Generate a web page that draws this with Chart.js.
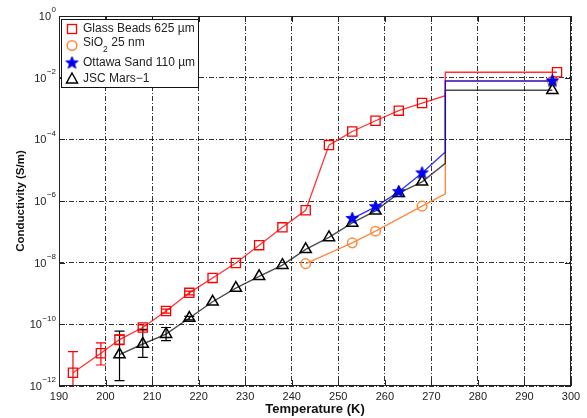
<!DOCTYPE html>
<html>
<head>
<meta charset="utf-8">
<script src="https://cdn.jsdelivr.net/npm/chart.js@4.4.1/dist/chart.umd.min.js"></script>
<style>
  html, body { margin: 0; padding: 0; background: #fff; }
  #wrap { width: 587px; height: 418px; }
</style>
</head>
<body>
<div id="wrap"><canvas id="chart" width="587" height="418"></canvas></div>
<script>
/* ========================================
   DATA
======================================== */
const glassTemp = [193, 199, 203, 208, 213, 218, 223, 228, 233, 238, 243, 248, 253, 258, 263, 268, 273, 273, 297];
const glassCond = [2.7e-12, 1.15e-11, 3.2e-11, 7.9e-11, 2.7e-10, 1.05e-9, 3.2e-9, 9.8e-9, 3.7e-8, 1.4e-7, 5.0e-7,
                   6.5e-5, 1.8e-4, 4.0e-4, 8.5e-4, 1.5e-3, 2.6e-3, 1.5e-2, 1.5e-2];

const sio2Temp = [243, 253, 258, 268, 273, 273, 296];
const sio2Cond = [9.3e-9, 4.4e-8, 1.05e-7, 6.8e-7, 1.7e-6, 7.8e-3, 7.8e-3];

const ottawaTemp = [253, 258, 263, 268, 273, 273, 296];
const ottawaCond = [2.7e-7, 6.5e-7, 2.0e-6, 8.1e-6, 3.9e-5, 7.8e-3, 7.8e-3];

const jscTemp = [203, 208, 213, 218, 223, 228, 233, 238, 243, 248, 253, 258, 263, 268, 273, 273, 296];
const jscCond = [1.05e-11, 2.3e-11, 4.8e-11, 1.6e-10, 5.4e-10, 1.5e-9, 3.6e-9, 8.3e-9, 2.7e-8, 6.6e-8,
                 1.95e-7, 4.8e-7, 1.8e-6, 4.2e-6, 1.66e-5, 3.9e-3, 3.9e-3];

// error bars
const glassErrTemp = [193, 199, 203, 208, 213, 218];
const glassErrHi   = [1.3e-11, 2.5e-11, 4.5e-11, 9.5e-11, 3.1e-10, 1.2e-9];
const glassErrLo   = [1e-13, 4.8e-12, 2.2e-11, 6.5e-11, 2.3e-10, 9e-10];

const jscErrTemp = [203, 208, 213, 218];
const jscErrHi   = [6.0e-11, 6.9e-11, 7.9e-11, 1.8e-10];
const jscErrLo   = [1.5e-12, 8.5e-12, 2.95e-11, 1.4e-10];

const seriesNames = ["Glass Beads 625 \u00b5m", "SiO", "Ottawa Sand 110 \u00b5m", "JSC Mars\u22121"];
const xTicks = [190, 200, 210, 220, 230, 240, 250, 260, 270, 280, 290, 300];
const yExponents = [0, -2, -4, -6, -8, -10, -12];

const JUMP_T = 273; // melt step, drawn without markers

/* ========================================
   STYLE
======================================== */
const RED = "#ff0000";
const ORANGE = "#ff8a3d";
const BLUE = "#0000ff";
const BLACK = "#000000";
const FONT = "'Liberation Sans', Arial, sans-serif";

function pts(t, v) {
  return t.map((x, i) => ({ x, y: v[i] }));
}

function makeStar(r, fill, stroke) {
  const c = document.createElement("canvas");
  const s = Math.ceil(r * 2 + 2);
  c.width = s; c.height = s;
  const g = c.getContext("2d");
  g.beginPath();
  for (let i = 0; i < 10; i++) {
    const a = -Math.PI / 2 + i * Math.PI / 5;
    const rr = i % 2 ? r * 0.42 : r;
    g.lineTo(s / 2 + rr * Math.cos(a), s / 2 + rr * Math.sin(a));
  }
  g.closePath();
  g.fillStyle = fill; g.fill();
  g.strokeStyle = stroke; g.lineWidth = 1; g.stroke();
  return c;
}
const starImg = makeStar(6.5, BLUE, "#0000cc");

const markerRadius = r => c => (c.raw && c.raw.x === JUMP_T ? 0 : r);

/* ========================================
   PLUGIN: frame, ticks, labels, legend, error bars
======================================== */
function drawErr(ctx, x, y, temps, hi, lo, color) {
  ctx.strokeStyle = color;
  ctx.lineWidth = 1.2;
  temps.forEach((t, i) => {
    const px = x.getPixelForValue(t);
    const pHi = y.getPixelForValue(hi[i]);
    const pLo = y.getPixelForValue(lo[i]);
    ctx.beginPath();
    ctx.moveTo(px, pHi); ctx.lineTo(px, pLo);
    ctx.moveTo(px - 5, pHi); ctx.lineTo(px + 5, pHi);
    ctx.moveTo(px - 5, pLo); ctx.lineTo(px + 5, pLo);
    ctx.stroke();
  });
}

function legendMarker(ctx, kind, cx, cy) {
  ctx.save();
  ctx.lineWidth = 1.3;
  if (kind === 0) {
    ctx.strokeStyle = RED;
    ctx.strokeRect(cx - 4.5, cy - 4.5, 9, 9);
  } else if (kind === 1) {
    ctx.strokeStyle = ORANGE;
    ctx.lineWidth = 1.6;
    ctx.beginPath(); ctx.arc(cx, cy, 4.8, 0, Math.PI * 2); ctx.stroke();
  } else if (kind === 2) {
    ctx.drawImage(starImg, cx - starImg.width / 2, cy - starImg.height / 2);
  } else {
    ctx.strokeStyle = BLACK;
    ctx.lineWidth = 1.5;
    ctx.beginPath();
    ctx.moveTo(cx, cy - 6);
    ctx.lineTo(cx + 5.5, cy + 4);
    ctx.lineTo(cx - 5.5, cy + 4);
    ctx.closePath(); ctx.stroke();
  }
  ctx.restore();
}

const decorPlugin = {
  id: "decor",
  beforeDatasetsDraw(chart) {
    const { ctx, chartArea: a, scales: { x, y } } = chart;
    ctx.save();
    ctx.beginPath();
    ctx.rect(a.left, a.top, a.right - a.left, a.bottom - a.top);
    ctx.clip();
    drawErr(ctx, x, y, glassErrTemp, glassErrHi, glassErrLo, RED);
    drawErr(ctx, x, y, jscErrTemp, jscErrHi, jscErrLo, BLACK);
    ctx.restore();
  },
  afterDraw(chart) {
    const { ctx, chartArea: a, scales: { x, y } } = chart;
    ctx.save();

    // box
    ctx.strokeStyle = "#222";
    ctx.lineWidth = 1;
    ctx.strokeRect(a.left + 0.5, a.top + 0.5, a.right - a.left - 1, a.bottom - a.top - 1);

    // inward tick marks
    ctx.beginPath();
    xTicks.forEach(t => {
      const px = Math.round(x.getPixelForValue(t)) + 0.5;
      ctx.moveTo(px, a.bottom); ctx.lineTo(px, a.bottom - 6);
      ctx.moveTo(px, a.top); ctx.lineTo(px, a.top + 6);
    });
    yExponents.forEach(e => {
      const py = Math.round(y.getPixelForValue(Math.pow(10, e))) + 0.5;
      ctx.moveTo(a.left, py); ctx.lineTo(a.left + 6, py);
      ctx.moveTo(a.right, py); ctx.lineTo(a.right - 6, py);
    });
    ctx.stroke();

    // y tick labels 10^n
    ctx.fillStyle = "#222";
    ctx.textBaseline = "middle";
    yExponents.forEach(e => {
      const py = y.getPixelForValue(Math.pow(10, e));
      const ex = e === 0 ? "0" : "\u2212" + Math.abs(e);
      ctx.font = "8px " + FONT;
      const ew = ctx.measureText(ex).width;
      const right = 56;
      ctx.textAlign = "left";
      ctx.fillText(ex, right - ew, py - 6);
      ctx.font = "11px " + FONT;
      ctx.textAlign = "right";
      ctx.fillText("10", right - ew - 0.5, py + 1);
    });

    // axis titles
    ctx.fillStyle = "#111";
    ctx.font = "bold 13px " + FONT;
    ctx.textAlign = "center";
    ctx.textBaseline = "middle";
    ctx.fillText("Temperature (K)", (a.left + a.right) / 2, 409);
    ctx.save();
    ctx.translate(21, (a.top + a.bottom) / 2);
    ctx.rotate(-Math.PI / 2);
    ctx.font = "bold 11.5px " + FONT;
    ctx.fillText("Conductivity (S/m)", 0, 0);
    ctx.restore();

    // legend
    const lx = 61.5, ly = 19.5, lw = 137, lh = 68;
    ctx.fillStyle = "#fff";
    ctx.fillRect(lx, ly, lw, lh);
    ctx.strokeStyle = "#111";
    ctx.lineWidth = 1;
    ctx.strokeRect(lx, ly, lw, lh);
    const rows = [29, 45.5, 63, 79];
    ctx.fillStyle = "#222";
    ctx.textAlign = "left";
    ctx.textBaseline = "middle";
    rows.forEach((ry, i) => {
      legendMarker(ctx, i, 72, ry);
      ctx.font = "12px " + FONT;
      if (i === 1) {
        ctx.fillText(seriesNames[1], 83, ry - 3);
        const w = ctx.measureText(seriesNames[1]).width;
        ctx.font = "8.5px " + FONT;
        ctx.fillText("2", 83 + w, ry + 4);
        ctx.font = "12px " + FONT;
        ctx.fillText(" 25 nm", 83 + w + 5, ry - 3);
      } else {
        ctx.fillText(seriesNames[i], 83, ry);
      }
    });

    ctx.restore();
  }
};

/* ========================================
   CHART
======================================== */
const ctx = document.getElementById("chart").getContext("2d");

new Chart(ctx, {
  type: "line",
  data: {
    datasets: [
      {
        label: seriesNames[2],
        data: pts(ottawaTemp, ottawaCond),
        borderColor: "rgba(0,0,255,0.8)",
        borderWidth: 1.4,
        pointStyle: starImg,
        pointRadius: markerRadius(6),
        tension: 0
      },
      {
        label: seriesNames[0],
        data: pts(glassTemp, glassCond),
        borderColor: "rgba(255,0,0,0.8)",
        borderWidth: 1.3,
        pointStyle: "rect",
        pointRadius: markerRadius(6.5),
        pointBorderColor: RED,
        pointBackgroundColor: "rgba(0,0,0,0)",
        pointBorderWidth: 1.3,
        tension: 0
      },
      {
        label: seriesNames[3],
        data: pts(jscTemp, jscCond),
        borderColor: "rgba(0,0,0,0.7)",
        borderWidth: 1.4,
        pointStyle: "triangle",
        pointRadius: markerRadius(6.5),
        pointBorderColor: BLACK,
        pointBackgroundColor: "rgba(0,0,0,0)",
        pointBorderWidth: 1.5,
        tension: 0
      },
      {
        label: "SiO2 25 nm",
        data: pts(sio2Temp, sio2Cond),
        borderColor: ORANGE,
        borderWidth: 1.4,
        pointStyle: "circle",
        pointRadius: markerRadius(4.8),
        pointBorderColor: ORANGE,
        pointBackgroundColor: "rgba(0,0,0,0)",
        pointBorderWidth: 1.5,
        tension: 0
      }
    ]
  },
  options: {
    responsive: false,
    animation: false,
    devicePixelRatio: 1,
    layout: { padding: { top: 16, right: 16, left: 0, bottom: 0 } },
    plugins: {
      legend: { display: false },
      tooltip: { enabled: false }
    },
    scales: {
      x: {
        type: "linear",
        min: 190,
        max: 300,
        afterBuildTicks: s => { s.ticks = xTicks.map(v => ({ value: v })); },
        afterFit: s => { s.height = 32; },
        ticks: {
          color: "#222",
          font: { family: FONT, size: 11 },
          padding: 4,
          maxRotation: 0
        },
        grid: { color: "rgba(0,0,0,0.8)", lineWidth: 1, drawTicks: false },
        border: { display: false, dash: [5, 2, 1, 2] }
      },
      y: {
        type: "logarithmic",
        min: 1e-12,
        max: 1,
        afterBuildTicks: s => { s.ticks = yExponents.map(e => ({ value: Math.pow(10, e) })); },
        afterFit: s => { s.width = 59; },
        ticks: { display: false },
        grid: { color: "rgba(0,0,0,0.8)", lineWidth: 1, drawTicks: false },
        border: { display: false, dash: [5, 2, 1, 2] }
      }
    }
  },
  plugins: [decorPlugin]
});
</script>
</body>
</html>
